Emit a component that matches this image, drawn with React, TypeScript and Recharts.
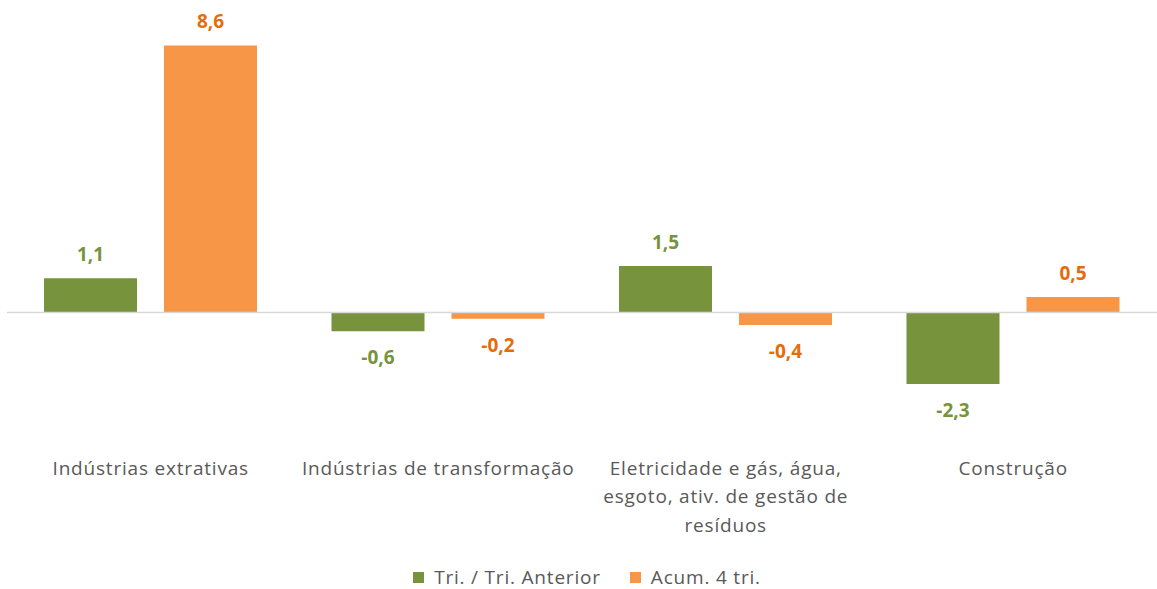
import React from "react";
import { BarChart, Bar, XAxis, YAxis, ReferenceLine, LabelList, Legend } from "recharts";

const categories = [
  "Indústrias extrativas",
  "Indústrias de transformação",
  "Eletricidade e gás, água, esgoto, ativ. de gestão de resíduos",
  "Construção",
];
const triAnterior = [1.1, -0.6, 1.5, -2.3];
const acum4 = [8.6, -0.2, -0.4, 0.5];
const seriesNames = ["Tri. / Tri. Anterior", "Acum. 4 tri."];

const data = categories.map((c, i) => ({ name: c, tri: triAnterior[i], acum: acum4[i] }));

const GREEN = "#77933C";
const ORANGE = "#F79646";
const ORANGE_TXT = "#E46C0A";
const FONT = "'Open Sans', Lato, sans-serif";
const FS = 19;
const LS = 0.8;
const textStyle = { fontFamily: FONT, fontSize: FS, letterSpacing: LS };

const fmt = (v: number) => v.toFixed(1).replace(".", ",");

let ctx: CanvasRenderingContext2D | null = null;
const measure = (s: string) => {
  if (!ctx) {
    ctx = document.createElement("canvas").getContext("2d");
  }
  if (!ctx) return s.length * FS * 0.55;
  ctx.font = `${FS}px ${FONT}`;
  return ctx.measureText(s).width + s.length * LS;
};

const wrap = (s: string, maxW: number) => {
  const words = s.split(" ");
  const lines: string[] = [];
  let cur = "";
  for (const w of words) {
    const cand = cur ? cur + " " + w : w;
    if (cur && measure(cand) > maxW) {
      lines.push(cur);
      cur = w;
    } else {
      cur = cand;
    }
  }
  if (cur) lines.push(cur);
  return lines;
};

const makeLabel = (color: string) => (props: any) => {
  const { x, y, width, height, value } = props;
  const top = Math.min(y, y + height);
  const bottom = Math.max(y, y + height);
  const cx = x + width / 2;
  const ty = value >= 0 ? top - 24 : bottom + 26;
  return (
    <text
      x={cx}
      y={ty}
      textAnchor="middle"
      dominantBaseline="central"
      fill={color}
      fontFamily={FONT}
      fontWeight={700}
      fontSize={19}
    >
      {fmt(value)}
    </text>
  );
};

const CatTick = (props: any) => {
  const { x, y, payload } = props;
  const lines = wrap(String(payload.value), 280);
  return (
    <text x={x} y={y + 61} textAnchor="middle" fill="#595959" style={textStyle}>
      {lines.map((l, i) => (
        <tspan key={i} x={x} dy={i === 0 ? 0 : 28.5}>
          {l}
        </tspan>
      ))}
    </text>
  );
};

const LegendContent = () => (
  <div
    style={{
      display: "flex",
      justifyContent: "center",
      alignItems: "center",
      ...textStyle,
      color: "#595959",
      gap: 29,
      paddingLeft: 17,
    }}
  >
    {[GREEN, ORANGE].map((c, i) => (
      <div key={i} style={{ display: "flex", alignItems: "center" }}>
        <span style={{ width: 11, height: 11, background: c, display: "inline-block", marginRight: 10 }} />
        <span>{seriesNames[i]}</span>
      </div>
    ))}
  </div>
);

export default function App() {
  return (
    <div style={{ position: "absolute", left: 0, top: 0, width: 1157, height: 589, background: "#fff" }}>
      <BarChart
        width={1157}
        height={589}
        data={data}
        margin={{ top: 33, right: 0, left: 7, bottom: 153.3 }}
        barSize={93}
        barGap={27}
      >
        <XAxis dataKey="name" axisLine={false} tickLine={false} height={30} tick={<CatTick />} interval={0} />
        <YAxis hide domain={[-3, 9]} />
        <ReferenceLine y={0} stroke="#D9D9D9" strokeWidth={1.5} />
        <Bar dataKey="tri" name={seriesNames[0]} fill={GREEN} isAnimationActive={false}>
          <LabelList dataKey="tri" content={makeLabel(GREEN)} />
        </Bar>
        <Bar dataKey="acum" name={seriesNames[1]} fill={ORANGE} isAnimationActive={false}>
          <LabelList dataKey="acum" content={makeLabel(ORANGE_TXT)} />
        </Bar>
        <Legend
          verticalAlign="middle"
          align="center"
          content={<LegendContent />}
          wrapperStyle={{ top: 564, left: 0, width: 1157 }}
        />
      </BarChart>
    </div>
  );
}
